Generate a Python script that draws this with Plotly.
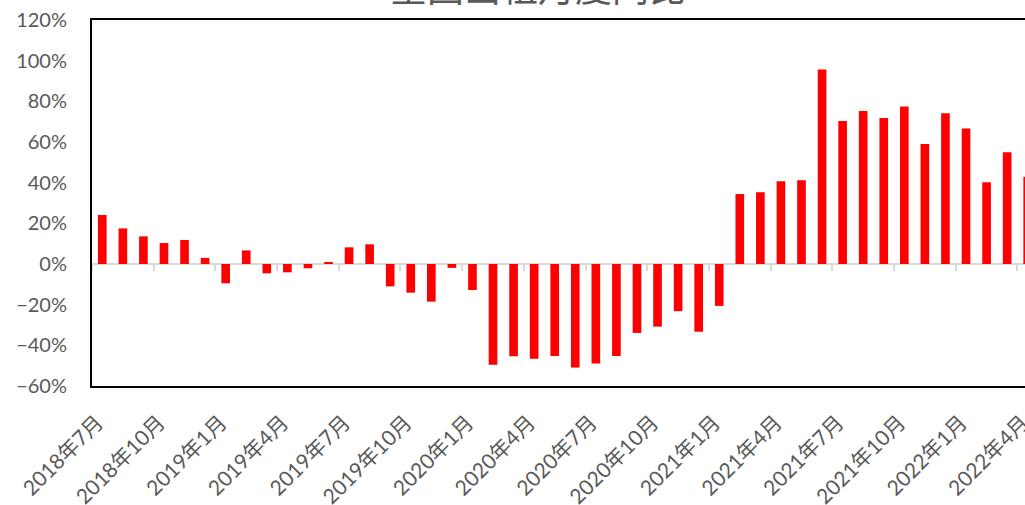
import plotly.graph_objects as go

months = []
for y in range(2018, 2023):
    for m in range(1, 13):
        if (y == 2018 and m < 7) or (y == 2022 and m > 4):
            continue
        months.append(f"{y}年{m}月")

values = [24.1, 17.5, 13.6, 10.3, 11.8, 3.0, -9.5, 6.7, -4.6, -4.1, -2.1, 0.5,
          8.2, 9.7, -11.0, -14.1, -18.5, -1.9, -12.8, -49.6, -45.4, -46.6, -45.3, -50.9,
          -48.9, -45.2, -33.9, -30.8, -23.2, -33.3, -20.6, 34.4, 35.3, 40.7, 41.2, 95.6,
          70.3, 75.3, 71.8, 77.4, 59.0, 74.1, 66.7, 40.2, 54.9, 42.9]

title_text = "全国出租月度同比"

tick_idx = list(range(0, len(months), 3))
tick_labels = [months[i] for i in tick_idx]
boundaries = [i - 0.5 for i in tick_idx]

x_idx = list(range(len(months)))
xr = [-0.5, len(months) - 0.5]

font_fam = "Lato, 'Noto Sans CJK SC', sans-serif"
gray = "#595959"

fig = go.Figure()
fig.add_trace(go.Bar(x=x_idx, y=values, marker=dict(color="#FF0000", line=dict(width=0)),
                     hovertext=months, showlegend=False))
fig.add_trace(go.Scatter(x=[None], y=[None], xaxis="x2", yaxis="y", showlegend=False,
                         hoverinfo="skip"))

fig.add_annotation(text=title_text, xref="paper", yref="paper", x=0.4715, y=1,
                   xanchor="center", yanchor="bottom", yshift=5, showarrow=False,
                   font=dict(family="'Noto Sans CJK SC', sans-serif", size=37, color=gray))

fig.update_layout(
    width=1040, height=505,
    margin=dict(l=92, r=2, t=20, b=119, autoexpand=False),
    paper_bgcolor="white", plot_bgcolor="white",
    bargap=0.58,
    xaxis=dict(range=xr, tickmode="array", tickvals=tick_idx, ticktext=tick_labels,
               tickangle=-45, ticks="outside", ticklen=0, ticklabelstandoff=14,
               ticklabelshift=-5, ticklabeloverflow="allow",
               showgrid=False, zeroline=False,
               showline=True, linecolor="black", linewidth=2, mirror=True,
               tickfont=dict(family=font_fam, size=21, color=gray),
               automargin=False),
    xaxis2=dict(range=xr, overlaying="x", anchor="free", position=1 / 3, side="bottom",
                tickmode="array", tickvals=boundaries, ticks="outside", ticklen=6,
                tickwidth=2, tickcolor="#D9D9D9", showticklabels=False, showgrid=False,
                zeroline=False, showline=True, linecolor="#D9D9D9", linewidth=2,
                layer="below traces", automargin=False),
    yaxis=dict(range=[-60, 120], tickmode="linear", tick0=0, dtick=20, ticksuffix="%",
               showgrid=False, zeroline=False, showline=True, linecolor="black",
               linewidth=2, ticks="outside", ticklen=0, ticklabelstandoff=19,
               ticklabeloverflow="allow",
               tickfont=dict(family=font_fam, size=20, color=gray), automargin=False),
)

fig.write_html(
    "out.html",
    config={"displayModeBar": False},
    post_script=("document.body.style.margin='0';"
                 "document.body.style.overflow='hidden';"
                 "document.documentElement.style.overflow='hidden';"),
)
